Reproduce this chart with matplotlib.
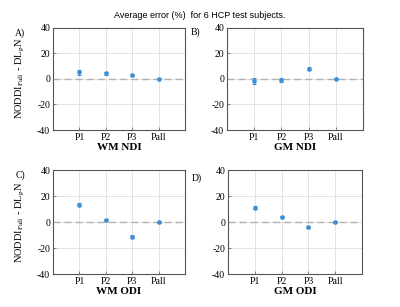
import matplotlib
matplotlib.use("Agg")
import matplotlib.pyplot as plt
import numpy as np

plt.rcParams["mathtext.fontset"] = "stix"

categories = ["P1", "P2", "P3", "Pall"]
panel_labels = ["A)", "B)", "C)", "D)"]
xlabels = ["WM NDI", "GM NDI", "WM ODI", "GM ODI"]
wm_ndi = [4.9, 4.1, 2.9, 0.0]
wm_ndi_err = [2.2, 1.5, 1.0, 0.5]
gm_ndi = [-2.0, -1.0, 8.0, 0.0]
gm_ndi_err = [2.2, 1.2, 1.0, 0.5]
wm_odi = [13.3, 1.5, -11.3, 0.0]
wm_odi_err = [1.2, 0.8, 1.2, 0.5]
gm_odi = [11.0, 4.1, -4.1, 0.0]
gm_odi_err = [1.2, 0.8, 0.8, 0.4]
yticks = [-40, -20, 0, 20, 40]

values = [wm_ndi, gm_ndi, wm_odi, gm_odi]
errs = [wm_ndi_err, gm_ndi_err, wm_odi_err, gm_odi_err]

fig = plt.figure(figsize=(4.0, 3.07), dpi=100)
positions = [
    [53/400, 1-130/307, 132/400, 102.5/307],
    [227/400, 1-130/307, 136/400, 102.5/307],
    [53/400, 1-274/307, 132/400, 104/307],
    [228/400, 1-274/307, 134/400, 104/307],
]
label_pos = [(-0.25, 0.94), (-0.235, 0.95), (-0.25, 0.95), (-0.235, 0.92)]
serif = "Liberation Serif"
blue = "#3d8fd9"
for i in range(4):
    ax = fig.add_axes(positions[i])
    x = np.arange(1, len(categories) + 1)
    ax.axhline(0, color="#b0b0b0", lw=1.0, ls=(0, (5, 3)), zorder=1)
    ax.errorbar(x, values[i], yerr=errs[i], fmt="o", ms=2.3, color=blue,
                ecolor=blue, elinewidth=0.8, capsize=1.2, capthick=0.8, zorder=3)
    ax.set_xlim(0, 5)
    ax.set_ylim(-40, 40)
    ax.set_xticks(x)
    ax.set_xticklabels(categories, fontfamily=serif, fontsize=7)
    ax.set_yticks(yticks)
    ax.set_yticklabels([str(t) for t in yticks], fontfamily=serif, fontsize=7)
    ax.grid(True, color="#e3e3e3", lw=0.7)
    ax.set_axisbelow(True)
    ax.tick_params(direction="in", length=2, width=0.5, color="#555555", pad=2)
    for s in ax.spines.values():
        s.set_color("#555555")
        s.set_linewidth(0.8)
    ax.set_xlabel(xlabels[i], fontfamily=serif, fontweight="bold", fontsize=8, labelpad=1)
    if i % 2 == 0:
        ax.set_ylabel(r"NODDI$_{\mathrm{Pall}}$ - DL$_{\mathrm{p}}$N", fontfamily=serif,
                      fontsize=7.5)
        ax.yaxis.set_label_coords(-0.2, 0.5)
    ax.text(label_pos[i][0], label_pos[i][1], panel_labels[i], transform=ax.transAxes,
            fontfamily=serif, fontsize=7, ha="center", va="center")

fig.text(0.5, 1-15/307, "Average error (%)  for 6 HCP test subjects.",
         fontfamily="Liberation Sans", fontsize=6.5, ha="center", va="center")
fig.savefig("out.png", dpi=100)
